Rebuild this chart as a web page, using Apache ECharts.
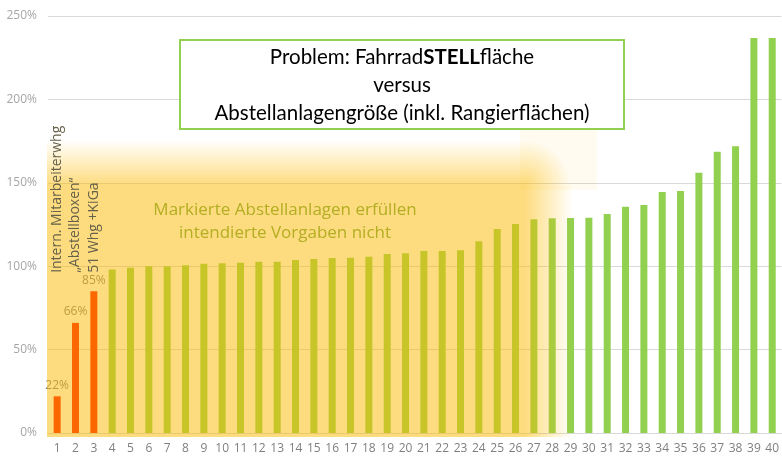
<!DOCTYPE html>
<html>
<head>
<meta charset="utf-8">
<script src="https://cdn.jsdelivr.net/npm/echarts@6/dist/echarts.min.js"></script>
<style>
  html, body { margin: 0; padding: 0; background: #fff; }
  #chart { width: 782px; height: 457px; }
</style>
</head>
<body>
<div id="chart"></div>
<script>
// x-Achse: Abstellanlagen 1..40
const categories = ['1', '2', '3', '4', '5', '6', '7', '8', '9', '10',
  '11', '12', '13', '14', '15', '16', '17', '18', '19', '20',
  '21', '22', '23', '24', '25', '26', '27', '28', '29', '30',
  '31', '32', '33', '34', '35', '36', '37', '38', '39', '40']

// Anteil Stellfläche / Anlagengröße in %
const values = [22, 66, 85, 98, 99, 100, 100, 100.5, 101.5, 101.7,
  102, 102.7, 102.7, 103.7, 104.3, 104.9, 105.1, 105.7, 107.3, 107.8,
  109.1, 109.1, 109.6, 115, 122.3, 125.3, 128.2, 128.8, 128.9, 129.1,
  131.3, 135.7, 136.7, 144.5, 145.1, 156.1, 168.6, 171.9, 236.8, 236.8]

const yTicks = [0, 50, 100, 150, 200, 250]

// die ersten drei Anlagen: beschriftet und orange
const lowCount = 3
const notes = ['Intern. Mitarbeiterwhg', '\u201eAbstellboxen\u201c', '51 Whg +KiGa']

const titleLines = ['Problem: Fahrrad', 'STELL', 'fläche', 'versus', 'Abstellanlagengröße (inkl. Rangierflächen)']
const hintLines = ['Markierte Abstellanlagen erfüllen', 'intendierte Vorgaben nicht']

const chart = echarts.init(document.getElementById('chart'))

const GOLD = 'rgba(252,186,0,0.5)'
const GOLD0 = 'rgba(252,186,0,0)'

chart.setOption({
  animation: false,
  textStyle: { fontFamily: 'Open Sans' },
  grid: { left: 48, top: 16, bottom: 24, width: 740 },
  xAxis: {
    type: 'category',
    data: categories,
    axisLine: { lineStyle: { color: '#d9d9d9' } },
    axisTick: { show: false },
    axisLabel: { color: '#7f7f7f', fontSize: 12, margin: 10, interval: 0 }
  },
  yAxis: {
    type: 'value',
    min: yTicks[0],
    max: yTicks[yTicks.length - 1],
    interval: 50,
    axisLine: { show: false },
    axisTick: { show: false },
    axisLabel: { formatter: '{value}%', color: '#a6a6a6', fontSize: 12, margin: 11 },
    splitLine: { lineStyle: { color: '#d9d9d9' } }
  },
  series: [{
    type: 'bar',
    barWidth: 7,
    z: 2,
    data: values.map((v, i) => ({
      value: v,
      itemStyle: { color: i < lowCount ? '#ff1500' : '#92d050' },
      label: { show: i < lowCount }
    })),
    label: {
      position: 'top',
      distance: 5,
      color: '#7f7f7f',
      fontSize: 12,
      formatter: p => Math.round(p.value) + '%'
    }
  }]
})

// Notizen über den ersten Balken
const noteEls = notes.map((t, i) => {
  const p = chart.convertToPixel({ xAxisIndex: 0, yAxisIndex: 0 }, [i, 96])
  return {
    type: 'text', z: 30, rotation: Math.PI / 2, x: p[0], y: p[1],
    style: { text: t, fill: '#66614a', font: '14px "Open Sans"', textAlign: 'left', textVerticalAlign: 'middle' }
  }
})

chart.setOption({
  graphic: [
    // gelbe Markierung (über den Balken)
    { type: 'rect', z: 10, silent: true, shape: { x: 47, y: 185, width: 478, height: 252 }, style: { fill: GOLD } },
    { type: 'rect', z: 10, silent: true, shape: { x: 47, y: 140, width: 478, height: 45 },
      style: { fill: new echarts.graphic.LinearGradient(0, 0, 0, 1, [{ offset: 0, color: GOLD0 }, { offset: 1, color: GOLD }]) } },
    { type: 'rect', z: 10, silent: true, shape: { x: 525, y: 185, width: 48, height: 252 },
      style: { fill: new echarts.graphic.LinearGradient(0, 0, 1, 0, [{ offset: 0, color: GOLD }, { offset: 1, color: GOLD0 }]) } },
    { type: 'rect', z: 10, silent: true, shape: { x: 525, y: 140, width: 48, height: 45 },
      style: { fill: new echarts.graphic.RadialGradient(0, 1, 1, [{ offset: 0, color: GOLD }, { offset: 1, color: GOLD0 }]) } },
    { type: 'rect', z: 10, silent: true, shape: { x: 520, y: 130, width: 77, height: 60 }, style: { fill: 'rgba(252,186,0,0.06)' } },

    // Titelbox
    { type: 'rect', z: 20, shape: { x: 180, y: 40, width: 444, height: 89 }, style: { fill: '#fff', stroke: '#92d050', lineWidth: 2 } },
    {
      type: 'text', z: 21, x: 402, y: 85,
      style: {
        text: '{a|' + titleLines[0] + '}{b|' + titleLines[1] + '}{a|' + titleLines[2] + '}\n{a|' + titleLines[3] + '}\n{a|' + titleLines[4] + '}',
        textAlign: 'center', textVerticalAlign: 'middle',
        rich: {
          a: { fontSize: 20.5, fontFamily: 'Lato', color: '#1a1a1a', lineHeight: 28 },
          b: { fontSize: 20.5, fontFamily: 'Lato', fontWeight: 'bold', color: '#1a1a1a', lineHeight: 28 }
        }
      }
    },

    // Hinweistext
    {
      type: 'text', z: 30, x: 285, y: 222,
      style: {
        text: hintLines.join('\n'), fill: '#b3ae22', font: '17px "Open Sans"',
        textAlign: 'center', textVerticalAlign: 'middle', lineHeight: 23
      }
    }
  ].concat(noteEls)
})
</script>
</body>
</html>
